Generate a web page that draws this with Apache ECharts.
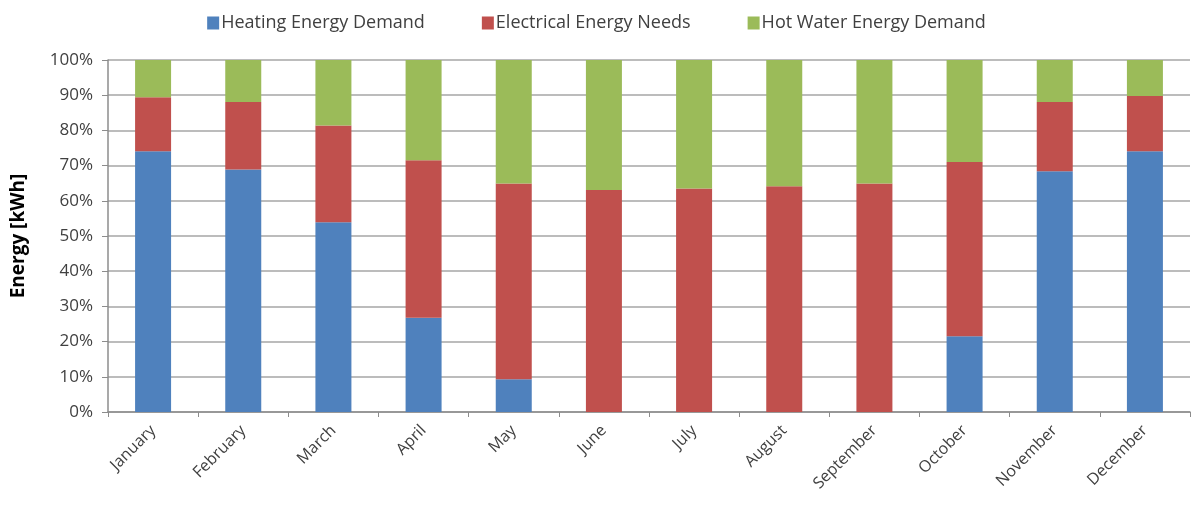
<!DOCTYPE html>
<html>
<head>
<meta charset="utf-8">
<script src="https://cdn.jsdelivr.net/npm/echarts@6/dist/echarts.min.js"></script>
<style>html,body{margin:0;padding:0;background:#fff}#c{width:1193px;height:506px}</style>
</head>
<body>
<div id="c"></div>
<script>
const months = ["January","February","March","April","May","June","July","August","September","October","November","December"];
const heating = [74.1, 68.9, 53.9, 26.8, 9.3, 0, 0, 0, 0, 21.5, 68.4, 74.1];
const electrical = [15.3, 19.2, 27.5, 44.7, 55.6, 63.1, 63.5, 64.1, 64.9, 49.5, 19.7, 15.7];
const hotWater = [10.6, 11.9, 18.6, 28.5, 35.1, 36.9, 36.5, 35.9, 35.1, 29.0, 11.9, 10.2];
const seriesNames = ["Heating Energy Demand","Electrical Energy Needs","Hot Water Energy Demand"];
const colors = ["#4F81BD","#C0504D","#9BBB59"];

const chart = echarts.init(document.getElementById('c'), null, {renderer:'canvas'});
const font = "'Open Sans', 'Liberation Sans', sans-serif";
const mk = (name, data, color) => ({
  name, type:'bar', stack:'total', data, barWidth:36,
  itemStyle:{color}, emphasis:{disabled:true}
});
chart.setOption({
  animation:false,
  color: colors,
  legend:{
    top:9, left:'center', itemWidth:12, itemHeight:13, itemGap:57,
    icon:'rect',
    textStyle:{fontFamily:font, fontSize:18, color:'#404040', padding:[0,0,0,-3]},
    data: seriesNames
  },
  grid:{left:108, right:3, top:60, bottom:94, containLabel:false},
  xAxis:{
    type:'category', data: months,
    axisLine:{lineStyle:{color:'#8c8c8c', width:1.5}},
    axisTick:{show:true, alignWithLabel:false, length:5, lineStyle:{color:'#8c8c8c'}},
    axisLabel:{rotate:45, fontFamily:font, fontSize:16, color:'#404040', margin:16, interval:0}
  },
  yAxis:{
    type:'value', min:0, max:100, interval:10,
    name:'Energy [kWh]', nameLocation:'middle', nameGap:80, nameRotate:90,
    nameTextStyle:{fontFamily:font, fontSize:19, fontWeight:'bold', color:'#000'},
    axisLine:{show:true, lineStyle:{color:'#8c8c8c', width:1.5}},
    axisTick:{show:true, length:6, lineStyle:{color:'#8c8c8c'}},
    axisLabel:{formatter:'{value}%', fontFamily:font, fontSize:17, color:'#404040', margin:15},
    splitLine:{lineStyle:{color:'#a6a6a6', width:1.5}}
  },
  series:[
    mk(seriesNames[0], heating, colors[0]),
    mk(seriesNames[1], electrical, colors[1]),
    mk(seriesNames[2], hotWater, colors[2])
  ]
});
</script>
</body>
</html>
